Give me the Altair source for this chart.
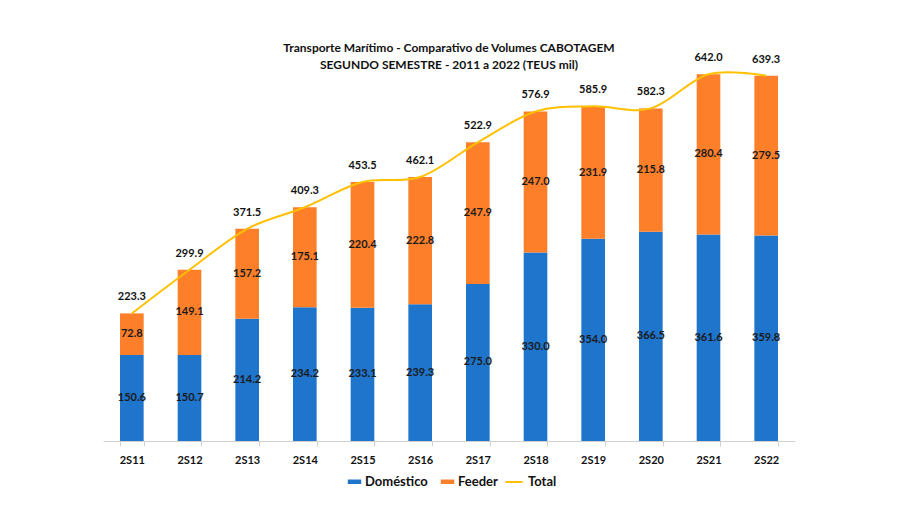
import altair as alt
import pandas as pd

categorias = ["2S11", "2S12", "2S13", "2S14", "2S15", "2S16", "2S17", "2S18", "2S19", "2S20", "2S21", "2S22"]
domestico = [150.6, 150.7, 214.2, 234.2, 233.1, 239.3, 275.0, 330.0, 354.0, 366.5, 361.6, 359.8]
feeder = [72.8, 149.1, 157.2, 175.1, 220.4, 222.8, 247.9, 247.0, 231.9, 215.8, 280.4, 279.5]
total = [223.3, 299.9, 371.5, 409.3, 453.5, 462.1, 522.9, 576.9, 585.9, 582.3, 642.0, 639.3]

AZUL = "#1f74cc"
LARANJA = "#fd7f2a"
AMARELO = "#ffc000"
FONTE = "Lato"

rows = []
for i, c in enumerate(categorias):
    rows.append({"cat": c, "serie": "Doméstico", "valor": domestico[i], "ord": 0})
    rows.append({"cat": c, "serie": "Feeder", "valor": feeder[i], "ord": 1})
barras_df = pd.DataFrame(rows)
total_df = pd.DataFrame({"cat": categorias, "total": total, "serie": ["Total"] * len(categorias)})

x_enc = alt.X("cat:N", sort=categorias, title=None,
              scale=alt.Scale(paddingInner=0.59, paddingOuter=0.295),
              axis=alt.Axis(labelFont=FONTE, labelFontWeight="bold", labelFontSize=11,
                            labelColor="#111111", labelPadding=8, labelAngle=0,
                            domainColor="#d0d0d0", tickColor="#d0d0d0", tickSize=5,
                            tickBand="extent", grid=False))
y_scale = alt.Scale(domain=[0, 660], nice=False)

base = alt.Chart(barras_df).transform_stack(
    stack="valor", groupby=["cat"], as_=["y0", "y1"], sort=[alt.SortField("ord", order="ascending")]
).transform_calculate(mid="(datum.y0 + datum.y1) / 2")

bars = base.mark_bar().encode(
    x=x_enc,
    y=alt.Y("y0:Q", scale=y_scale, axis=None),
    y2="y1:Q",
    color=alt.Color("serie:N", scale=alt.Scale(domain=["Doméstico", "Feeder"], range=[AZUL, LARANJA]),
                    legend=alt.Legend(title=None, orient="none", legendX=245, legendY=411,
                                      direction="horizontal",
                                      symbolType="M-1.5,-0.5L1.5,-0.5L1.5,0.5L-1.5,0.5Z", symbolSize=80,
                                      symbolStrokeWidth=0,
                                      labelFont=FONTE, labelFontSize=13, labelFontWeight="bold",
                                      labelColor="#111111", columnPadding=12)),
)

seg_labels = base.mark_text(font=FONTE, fontSize=11, fontWeight="bold", color="#1a1a1a").encode(
    x=alt.X("cat:N", sort=categorias),
    y=alt.Y("mid:Q", scale=y_scale),
    text=alt.Text("valor:Q", format=".1f"),
)

linha = alt.Chart(total_df).mark_line(interpolate="cardinal", strokeWidth=2).encode(
    x=alt.X("cat:N", sort=categorias),
    y=alt.Y("total:Q", scale=y_scale),
    stroke=alt.Stroke("serie:N", scale=alt.Scale(domain=["Total"], range=[AMARELO]),
                      legend=alt.Legend(title=None, orient="none", legendX=401, legendY=408,
                                        symbolType="stroke",
                                        symbolStrokeWidth=2, symbolSize=300,
                                        labelFont=FONTE, labelFontSize=13, labelFontWeight="bold",
                                        labelColor="#111111")),
)

tot_labels = alt.Chart(total_df).mark_text(font=FONTE, fontSize=11, fontWeight="bold",
                                            color="#111111", dy=-11, baseline="bottom").encode(
    x=alt.X("cat:N", sort=categorias),
    y=alt.Y("total:Q", scale=y_scale),
    text=alt.Text("total:Q", format=".1f"),
)

chart = alt.layer(bars, seg_labels, linha, tot_labels).properties(
    width=692, height=377,
    title=alt.TitleParams(
        ["Transporte Marítimo - Comparativo de Volumes CABOTAGEM",
         "SEGUNDO SEMESTRE - 2011 a 2022 (TEUS mil)"],
        font=FONTE, fontSize=12, fontWeight="bold", color="#111111",
        anchor="middle", offset=-20, lineHeight=17),
    autosize=alt.AutoSizeParams(type="none"),
    padding={"left": 95, "top": 56, "right": 97, "bottom": 81},
).configure_view(stroke=None)

chart.save("out.html", embed_options={"renderer": "svg", "actions": False})
